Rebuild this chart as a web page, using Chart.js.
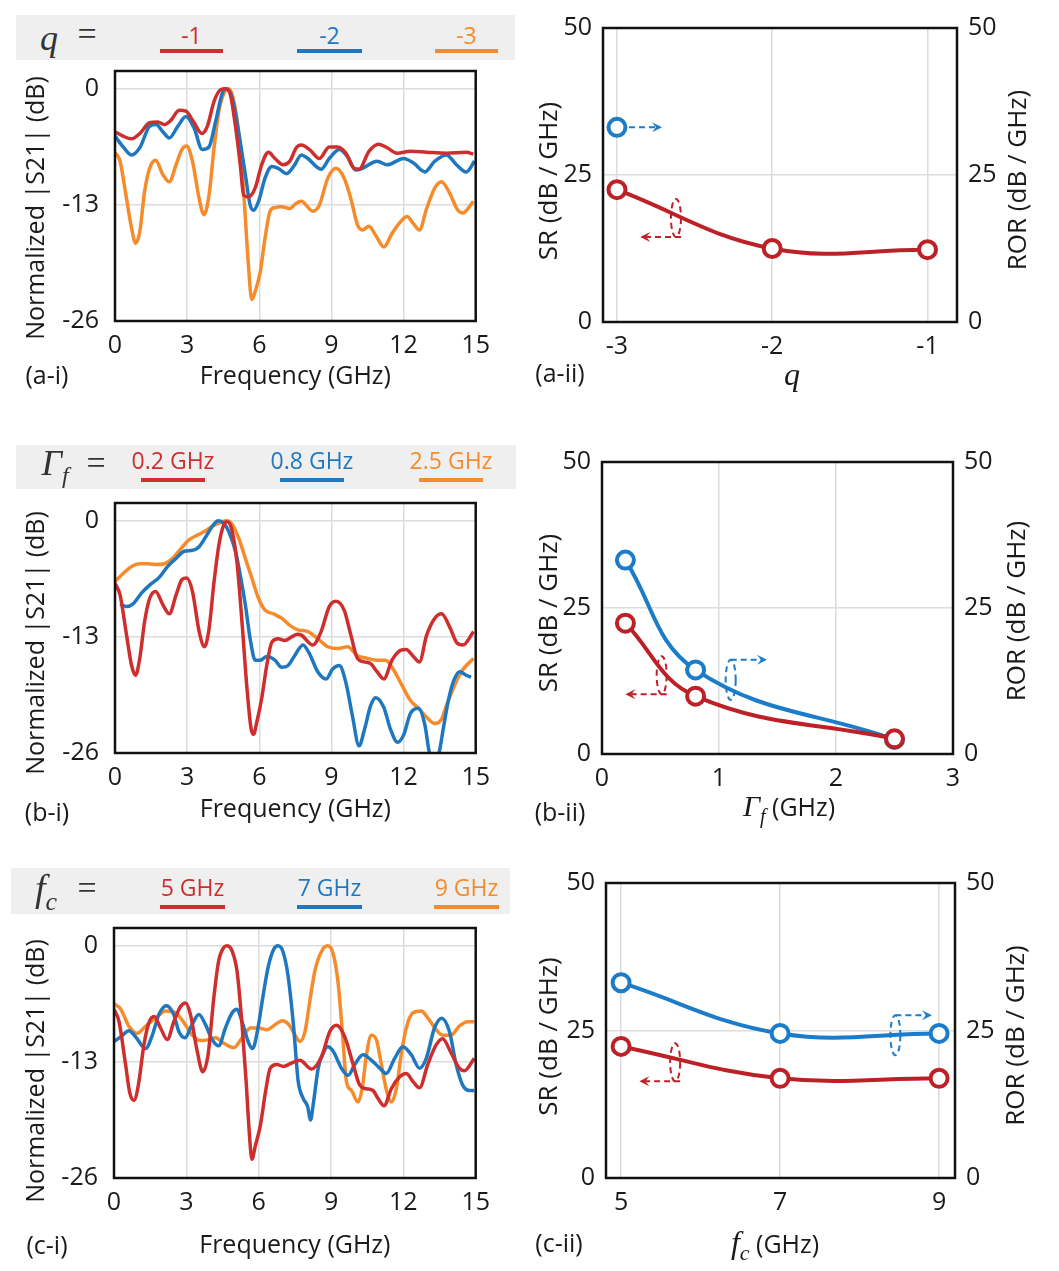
<!DOCTYPE html>
<html>
<head>
<meta charset="utf-8">
<script src="https://cdn.jsdelivr.net/npm/chart.js@4.4.1/dist/chart.umd.min.js"></script>
<style>
  body { margin: 0; background: #fff; width: 1059px; height: 1271px; position: relative; overflow: hidden; font-family: 'Open Sans', sans-serif; color: #1a1a1a; }
  canvas { position: absolute; }
  .band { position: absolute; background: #efefef; }
  .abs { position: absolute; white-space: nowrap; transform: translate(-50%, -50%); line-height: 1; }
  .bar { position: absolute; height: 4px; }
  .math { font-family: 'Liberation Serif', serif; font-style: italic; }
  .lbl { font-size: 25px; }
  .leg { font-size: 23px; }
</style>
</head>
<body>
<canvas id="ai"></canvas>
<canvas id="aii"></canvas>
<canvas id="bi"></canvas>
<canvas id="bii"></canvas>
<canvas id="ci"></canvas>
<canvas id="cii"></canvas>

<script>
// ---- data ----
const s21Ticks = [-26, -13, 0];

// (a-i) q = -1, -2, -3   [GHz, dB]
const qM1 = [[0,-4.8],[0.34,-5.3],[0.69,-5.6],[1.03,-5.0],[1.44,-3.8],[1.78,-3.7],[2.06,-4.0],[2.33,-3.5],[2.67,-2.4],[2.95,-2.5],[3.29,-3.8],[3.61,-5.0],[3.84,-4.2],[4.12,-1.4],[4.39,-0.1],[4.6,0],[4.8,-0.7],[5.0,-4.0],[5.21,-8.5],[5.35,-11.9],[5.56,-12.1],[5.83,-11.1],[6.1,-8.5],[6.38,-7.1],[6.65,-7.8],[7.0,-8.5],[7.27,-8.1],[7.54,-6.6],[7.75,-6.3],[8.09,-6.8],[8.5,-7.8],[8.91,-6.5],[9.26,-6.5],[9.6,-7.2],[9.94,-8.9],[10.15,-9.0],[10.56,-7.0],[10.97,-6.2],[11.32,-6.6],[11.73,-7.2],[12.28,-7.0],[12.96,-7.1],[13.78,-7.2],[14.61,-7.1],[14.9,-7.3]];
const qM2 = [[0,-5.3],[0.34,-6.5],[0.69,-7.4],[1.03,-6.6],[1.44,-4.2],[1.71,-4.0],[1.99,-4.8],[2.26,-5.5],[2.61,-4.2],[2.95,-3.1],[3.29,-4.4],[3.63,-6.8],[3.91,-6.5],[4.18,-3.7],[4.46,-0.5],[4.62,0],[4.87,-1.0],[5.14,-4.8],[5.42,-9.6],[5.62,-13.0],[5.76,-13.6],[5.97,-12.6],[6.24,-10.0],[6.52,-8.7],[6.79,-8.9],[7.13,-9.5],[7.45,-8.6],[7.75,-7.4],[8.02,-7.8],[8.57,-9.0],[8.91,-7.8],[9.33,-6.8],[9.67,-7.6],[10.01,-9.1],[10.29,-8.9],[10.9,-8.1],[11.32,-8.5],[12.0,-7.8],[12.41,-8.3],[12.89,-9.3],[13.3,-8.1],[13.78,-7.4],[14.2,-8.5],[14.61,-9.3],[14.95,-8.1]];
const qM3 = [[0,-7.1],[0.21,-8.1],[0.48,-12.3],[0.69,-15.6],[0.86,-17.3],[1.03,-16.0],[1.23,-11.5],[1.44,-8.9],[1.69,-8.0],[1.99,-9.6],[2.26,-10.4],[2.54,-8.5],[2.78,-6.8],[2.98,-6.4],[3.22,-8.1],[3.5,-12.3],[3.7,-14.1],[3.91,-11.9],[4.12,-6.6],[4.32,-2.5],[4.53,-0.5],[4.71,0],[4.9,-0.9],[5.14,-4.8],[5.35,-11.5],[5.53,-19.0],[5.69,-23.6],[5.83,-22.7],[6.04,-20.5],[6.24,-16.7],[6.45,-13.7],[6.65,-13.3],[6.93,-13.2],[7.27,-13.4],[7.54,-12.8],[7.75,-12.6],[8.23,-13.7],[8.5,-13.0],[8.85,-10.0],[9.19,-8.9],[9.53,-10.0],[9.81,-12.3],[10.08,-15.2],[10.29,-15.8],[10.56,-15.4],[10.84,-16.4],[11.18,-17.7],[11.52,-16.2],[11.87,-14.9],[12.14,-14.3],[12.41,-15.1],[12.66,-15.8],[12.96,-13.4],[13.3,-11.1],[13.58,-10.4],[13.92,-11.7],[14.26,-13.6],[14.47,-13.9],[14.9,-12.6]];

// (b-i) Gamma_f = 0.2, 0.8, 2.5 GHz
const gf02 = [[0,-7.0],[0.21,-8.3],[0.48,-12.8],[0.69,-16.2],[0.85,-17.3],[1.03,-15.4],[1.23,-11.3],[1.44,-8.7],[1.69,-7.9],[1.99,-9.4],[2.26,-10.4],[2.54,-8.3],[2.78,-6.6],[2.98,-6.4],[3.22,-7.9],[3.5,-12.4],[3.72,-14.1],[3.91,-12.1],[4.12,-6.8],[4.32,-2.7],[4.53,-0.4],[4.66,-0.1],[4.84,-0.8],[5.07,-4.6],[5.28,-11.3],[5.49,-18.8],[5.66,-23.3],[5.76,-23.9],[5.9,-22.5],[6.1,-19.9],[6.31,-16.2],[6.52,-13.6],[6.79,-13.2],[7.06,-13.4],[7.34,-13.0],[7.59,-12.7],[7.75,-12.8],[8.23,-13.9],[8.57,-12.4],[8.91,-9.6],[9.19,-9.0],[9.53,-10.0],[9.81,-12.8],[10.08,-15.4],[10.36,-15.8],[10.63,-16.0],[10.9,-16.9],[11.18,-17.7],[11.52,-15.6],[11.87,-14.5],[12.11,-14.4],[12.41,-15.2],[12.66,-15.8],[12.96,-12.8],[13.3,-10.9],[13.58,-10.4],[13.92,-11.9],[14.2,-13.6],[14.47,-13.9],[14.91,-12.4]];
const gf08 = [[0.21,-9.3],[0.48,-9.6],[0.75,-9.3],[1.1,-8.1],[1.44,-7.2],[1.85,-6.3],[2.19,-5.1],[2.54,-4.2],[2.88,-3.4],[3.22,-3.3],[3.5,-2.9],[3.77,-1.8],[4.05,-0.6],[4.29,0],[4.53,-0.3],[4.73,-1.2],[5.01,-3.4],[5.21,-6.1],[5.42,-9.4],[5.62,-13.2],[5.83,-15.6],[6.04,-15.6],[6.31,-15.2],[6.65,-15.6],[6.93,-16.4],[7.2,-16.2],[7.47,-15.1],[7.82,-13.9],[8.09,-14.9],[8.43,-16.9],[8.78,-17.7],[9.05,-16.6],[9.33,-16.2],[9.6,-18.1],[9.87,-21.8],[10.15,-25.2],[10.38,-23.3],[10.63,-20.7],[10.84,-19.8],[11.18,-20.9],[11.45,-23.3],[11.75,-24.8],[12.0,-24.0],[12.28,-21.6],[12.62,-21.0],[12.89,-22.9],[13.07,-25.9],[13.24,-26.7],[13.48,-25.9],[13.65,-23.3],[13.85,-20.3],[14.06,-18.1],[14.33,-16.9],[14.61,-17.3],[14.81,-17.5]];
const gf25 = [[0,-6.8],[0.34,-5.9],[0.69,-5.1],[1.03,-4.8],[1.37,-4.8],[1.71,-4.9],[2.06,-4.8],[2.4,-4.2],[2.74,-3.1],[3.09,-2.1],[3.43,-1.6],[3.77,-1.1],[4.12,-0.5],[4.46,-0.1],[4.66,0],[4.87,-0.4],[5.14,-1.9],[5.42,-4.2],[5.69,-6.4],[5.97,-8.7],[6.24,-10.0],[6.58,-10.4],[6.93,-10.9],[7.27,-11.7],[7.61,-12.2],[8.02,-12.4],[8.43,-13.2],[8.85,-14.1],[9.26,-14.3],[9.67,-14.1],[10.08,-15.1],[10.49,-15.4],[10.9,-15.6],[11.25,-15.6],[11.59,-16.7],[11.93,-18.4],[12.28,-20.1],[12.62,-21.0],[12.96,-22.0],[13.3,-22.7],[13.58,-22.2],[13.78,-20.7],[14.06,-18.8],[14.4,-16.9],[14.91,-15.4]];

// (c-i) f_c = 5, 7, 9 GHz
const fc5 = [[0,-7.1],[0.21,-8.5],[0.48,-13.3],[0.65,-16.4],[0.83,-17.3],[1.01,-15.6],[1.24,-11.1],[1.45,-8.6],[1.66,-7.9],[1.93,-9.2],[2.21,-10.5],[2.48,-8.5],[2.76,-6.8],[2.97,-6.4],[3.17,-7.7],[3.45,-11.8],[3.68,-14.1],[3.9,-12.2],[4.14,-5.8],[4.34,-1.7],[4.55,-0.2],[4.69,0],[4.9,-0.6],[5.1,-2.8],[5.31,-8.8],[5.48,-15.2],[5.61,-20.9],[5.72,-23.9],[5.86,-22.4],[6.07,-20.1],[6.28,-16.4],[6.48,-13.7],[6.76,-13.3],[7.03,-13.5],[7.31,-13.2],[7.71,-12.8],[8.19,-13.8],[8.61,-12.4],[8.95,-9.6],[9.23,-8.9],[9.57,-10.2],[9.92,-13.3],[10.19,-15.6],[10.47,-16.0],[10.74,-16.2],[10.95,-17.1],[11.2,-17.9],[11.5,-16.0],[11.84,-14.7],[12.12,-14.3],[12.4,-15.2],[12.67,-15.9],[13.01,-13.3],[13.36,-11.1],[13.63,-10.4],[13.98,-12.0],[14.32,-13.7],[14.53,-14.0],[14.94,-12.6]];
const fc7 = [[0,-10.7],[0.28,-10.2],[0.62,-9.5],[0.9,-10.2],[1.31,-11.5],[1.59,-10.0],[1.86,-7.7],[2.17,-6.7],[2.48,-7.7],[2.69,-9.6],[2.94,-10.3],[3.24,-8.8],[3.52,-7.7],[3.79,-8.8],[4.07,-10.5],[4.34,-11.2],[4.62,-9.2],[4.9,-7.5],[5.1,-7.1],[5.31,-8.5],[5.59,-10.9],[5.75,-11.5],[5.97,-9.2],[6.17,-5.8],[6.39,-2.4],[6.62,-0.4],[6.8,0],[7.0,-0.6],[7.21,-3.2],[7.44,-8.8],[7.64,-15.2],[7.85,-17.1],[8.03,-18.0],[8.15,-19.5],[8.26,-17.8],[8.47,-13.7],[8.68,-12.0],[8.86,-11.3],[9.09,-11.8],[9.43,-13.7],[9.71,-14.5],[9.98,-13.3],[10.33,-12.2],[10.67,-12.8],[11.02,-13.7],[11.29,-14.3],[11.64,-12.6],[11.98,-11.3],[12.33,-12.2],[12.67,-13.7],[12.95,-12.6],[13.29,-9.2],[13.59,-8.1],[13.91,-9.6],[14.19,-13.3],[14.46,-15.6],[14.74,-16.2],[14.94,-16.2]];
const fc9 = [[0,-6.5],[0.28,-7.1],[0.62,-9.0],[0.97,-9.8],[1.31,-9.0],[1.72,-8.1],[2.14,-7.3],[2.55,-7.5],[2.9,-8.6],[3.24,-10.0],[3.59,-10.6],[3.93,-10.5],[4.21,-10.3],[4.55,-10.9],[4.97,-11.4],[5.31,-10.3],[5.66,-9.2],[6.0,-9.2],[6.34,-9.4],[6.69,-8.8],[6.97,-8.4],[7.24,-8.8],[7.51,-10.0],[7.71,-10.7],[7.92,-9.6],[8.12,-6.2],[8.33,-2.8],[8.61,-0.6],[8.86,0],[9.09,-0.9],[9.3,-4.3],[9.48,-10.0],[9.64,-15.2],[9.85,-16.2],[10.12,-17.5],[10.29,-16.0],[10.47,-12.2],[10.67,-10.0],[10.88,-10.5],[11.09,-13.3],[11.32,-16.4],[11.5,-17.5],[11.71,-16.0],[11.91,-12.2],[12.12,-9.2],[12.4,-7.5],[12.74,-7.3],[13.02,-8.1],[13.36,-9.4],[13.63,-10.0],[13.98,-10.0],[14.32,-9.0],[14.67,-8.5],[14.94,-8.5]];

// right column: SR (left axis) and ROR (right axis), dB / GHz
const rateTicks = [0, 25, 50];
const qVals = [-3, -2, -1];
const srQ = [22.5, 12.5, 12.3];
const rorQ = [33.1];            // only q = -3 is shown
const gammaVals = [0.2, 0.8, 2.5];
const srGamma = [22.4, 9.9, 2.6];
const rorGamma = [33.2, 14.4, 2.5];
const fcVals = [5, 7, 9];
const srFc = [22.3, 16.9, 16.9];
const rorFc = [33.1, 24.5, 24.5];

const RED = '#cf2e2e', BLUE = '#1f78bf', ORANGE = '#f68b2b';
const RED2 = '#bd2127', BLUE2 = '#1b7cc9';

Chart.defaults.font.family = "'Open Sans', sans-serif";
Chart.defaults.font.size = 25;
Chart.defaults.color = '#1a1a1a';

// black box round the plot area
const framePlugin = {
  id: 'frame',
  afterDatasetsDraw(chart) {
    const { ctx, chartArea: a } = chart;
    ctx.save();
    ctx.strokeStyle = '#111';
    ctx.lineWidth = 2.5;
    ctx.strokeRect(a.left, a.top, a.right - a.left, a.bottom - a.top);
    ctx.restore();
  }
};

// rotated axis titles, both reading bottom to top
const sideTitlePlugin = {
  id: 'sideTitles',
  afterDraw(chart, args, opts) {
    const { ctx, chartArea: a } = chart;
    (opts.items || []).forEach(it => {
      ctx.save();
      ctx.translate(it.x, (a.top + a.bottom) / 2 + it.dy);
      ctx.rotate(-Math.PI / 2);
      ctx.font = (it.size || 25) + "px 'Open Sans', sans-serif";
      ctx.fillStyle = '#1a1a1a';
      ctx.textAlign = 'center';
      ctx.textBaseline = 'middle';
      ctx.fillText(it.text, 0, 0);
      ctx.restore();
    });
  }
};

// dashed ellipse + arrow telling which axis a curve belongs to
const calloutPlugin = {
  id: 'callouts',
  afterDatasetsDraw(chart, args, opts) {
    const { ctx, scales } = chart;
    (opts.items || []).forEach(it => {
      const x = scales.x.getPixelForValue(it.x);
      const y = scales.y.getPixelForValue(it.y);
      const tip = scales.x.getPixelForValue(it.tip);
      ctx.save();
      ctx.strokeStyle = it.color;
      ctx.fillStyle = it.color;
      ctx.lineWidth = 2;
      ctx.setLineDash([6, 4]);
      let x0 = x + (it.start || 0), ay = y;
      if (it.ry) {
        ctx.beginPath();
        ctx.ellipse(x, y, it.rx, it.ry, 0, 0, 2 * Math.PI);
        ctx.stroke();
        ay = it.dir < 0 ? y + it.ry : y - it.ry;
        x0 = it.dir < 0 ? x + it.rx : x;
      }
      ctx.beginPath();
      ctx.moveTo(x0, ay);
      ctx.lineTo(tip - it.dir * 6, ay);
      ctx.stroke();
      ctx.setLineDash([]);
      ctx.beginPath();
      ctx.moveTo(tip, ay);
      ctx.lineTo(tip - it.dir * 10, ay - 5);
      ctx.lineTo(tip - it.dir * 6, ay);
      ctx.lineTo(tip - it.dir * 10, ay + 5);
      ctx.closePath();
      ctx.fill();
      ctx.restore();
    });
  }
};

function place(id, box) {
  const c = document.getElementById(id);
  c.width = box.w; c.height = box.h;
  c.style.left = box.x + 'px'; c.style.top = box.y + 'px';
  c.style.width = box.w + 'px'; c.style.height = box.h + 'px';
  return c;
}

const gridStyle = { color: '#dcdcdc', lineWidth: 1.5, drawTicks: false };

// canvases start 45px above the plot so the label padding never pushes the plot down
function s21Chart(id, x, w, area, xTitleY, yTitleDy, series) {
  const box = { x: x, y: area.t - 45, w: w, h: xTitleY + 25 - (area.t - 45) };
  const c = place(id, box);
  return new Chart(c, {
    type: 'scatter',
    data: {
      datasets: series.map(s => ({
        data: s.pts.map(p => ({ x: p[0], y: p[1] })),
        borderColor: s.color,
        borderWidth: 3.5,
        showLine: true,
        pointRadius: 0,
        cubicInterpolationMode: 'monotone'
      }))
    },
    options: {
      responsive: false,
      animation: false,
      layout: { padding: { top: 45, right: box.x + box.w - area.r, left: 0, bottom: 0 } },
      plugins: {
        legend: { display: false },
        tooltip: { enabled: false },
        sideTitles: { items: [{ text: 'Normalized |S21| (dB)', x: 37 - box.x, dy: yTitleDy }] }
      },
      scales: {
        x: {
          type: 'linear', min: 0, max: 15,
          ticks: { stepSize: 3, padding: 10, maxRotation: 0 },
          grid: gridStyle,
          border: { display: false },
          title: { display: true, text: 'Frequency (GHz)', padding: { top: 0, bottom: 10 } },
          afterFit(s) { s.height = box.y + box.h - area.b; }
        },
        y: {
          min: -26, max: 2,
          afterBuildTicks(s) { s.ticks = s21Ticks.map(v => ({ value: v })); },
          ticks: { padding: 16 },
          grid: gridStyle,
          border: { display: false },
          afterFit(s) { s.width = area.l - box.x; }
        }
      }
    },
    plugins: [framePlugin, sideTitlePlugin]
  });
}

function rateChart(id, area, xr, xs, sr, ror, dys, callouts) {
  const box = { x: 520, y: area.t - 45, w: 539, h: area.b + 80 - (area.t - 45) };
  const c = place(id, box);
  const ptStyle = color => ({
    borderColor: color, borderWidth: 4, showLine: true, tension: 0.4,
    pointRadius: 8.5, pointBorderWidth: 4, pointBackgroundColor: '#fff', pointBorderColor: color
  });
  return new Chart(c, {
    type: 'scatter',
    data: {
      datasets: [
        Object.assign({ data: sr.map((v, i) => ({ x: xs[i], y: v })), yAxisID: 'y' }, ptStyle(RED2)),
        Object.assign({ data: ror.map((v, i) => ({ x: xs[i], y: v })), yAxisID: 'y2' }, ptStyle(BLUE2))
      ]
    },
    options: {
      responsive: false,
      animation: false,
      layout: { padding: { top: 45, right: 0, left: 0, bottom: 0 } },
      plugins: {
        legend: { display: false },
        tooltip: { enabled: false },
        sideTitles: { items: [
          { text: 'SR (dB / GHz)', x: 550 - box.x, dy: dys[0], size: 26 },
          { text: 'ROR (dB / GHz)', x: dys[2] - box.x, dy: dys[1], size: 26 }
        ] },
        callouts: { items: callouts }
      },
      scales: {
        x: {
          type: 'linear', min: xr[0], max: xr[1],
          afterBuildTicks(s) { s.ticks = xr[2].map(v => ({ value: v })); },
          ticks: { padding: 10, maxRotation: 0 },
          grid: gridStyle,
          border: { display: false },
          afterFit(s) { s.height = box.y + box.h - area.b; }
        },
        y: {
          min: 0, max: 50,
          afterBuildTicks(s) { s.ticks = rateTicks.map(v => ({ value: v })); },
          ticks: { padding: 11 },
          grid: gridStyle,
          border: { display: false },
          afterFit(s) { s.width = area.l - box.x; }
        },
        y2: {
          position: 'right', min: 0, max: 50,
          afterBuildTicks(s) { s.ticks = rateTicks.map(v => ({ value: v })); },
          ticks: { padding: 11 },
          grid: { drawOnChartArea: false, drawTicks: false },
          border: { display: false },
          afterFit(s) { s.width = box.x + box.w - area.r; }
        }
      }
    },
    plugins: [framePlugin, sideTitlePlugin, calloutPlugin]
  });
}

s21Chart('ai', 0, 500, { l: 115, t: 71, r: 478, b: 321 }, 377, 12,
  [{ pts: qM1, color: RED }, { pts: qM2, color: BLUE }, { pts: qM3, color: ORANGE }]);
s21Chart('bi', 0, 500, { l: 115, t: 503, r: 478, b: 753 }, 810, 15,
  [{ pts: gf02, color: RED }, { pts: gf08, color: BLUE }, { pts: gf25, color: ORANGE }]);
s21Chart('ci', 0, 500, { l: 114, t: 928, r: 477, b: 1178 }, 1246, 18,
  [{ pts: fc5, color: RED }, { pts: fc7, color: BLUE }, { pts: fc9, color: ORANGE }]);

rateChart('aii', { l: 603, t: 28, r: 957, b: 322 },
  [-3.09, -0.81, qVals], qVals, srQ, rorQ, [6, 5, 1019],
  [{ color: RED2, x: -2.62, y: 17.7, rx: 5, ry: 19, dir: -1, tip: -2.85 },
   { color: BLUE2, x: -3, y: 33.1, start: 12, dir: 1, tip: -2.71 }]);
rateChart('bii', { l: 602, t: 462, r: 953, b: 754 },
  [0, 3, [0, 1, 2, 3]], gammaVals, srGamma, rorGamma, [5, 3, 1018],
  [{ color: RED2, x: 0.51, y: 13.5, rx: 5, ry: 19, dir: -1, tip: 0.2 },
   { color: BLUE2, x: 1.1, y: 12.7, rx: 5, ry: 20, dir: 1, tip: 1.41 }]);
rateChart('cii', { l: 606, t: 883, r: 955, b: 1178 },
  [4.81, 9.2, fcVals], fcVals, srFc, rorFc, [6, 5, 1017],
  [{ color: RED2, x: 5.68, y: 19.6, rx: 5, ry: 19, dir: -1, tip: 5.23 },
   { color: BLUE2, x: 8.45, y: 24.2, rx: 5, ry: 20, dir: 1, tip: 8.91 }]);

// ---- legend bands, panel tags, right-hand x titles ----
function add(html, css, cls) {
  const d = document.createElement('div');
  d.className = cls || 'abs';
  d.innerHTML = html;
  Object.assign(d.style, css);
  document.body.appendChild(d);
  return d;
}
const bands = [
  { box: [16, 15, 499, 45], sym: '<span class="math" style="font-size:36px">q</span>', symX: 49, symY: 38, eqX: 87, eqY: 34, textY: 35, barY: 49,
    items: [['-1', RED, 160, 223], ['-2', BLUE, 297, 362], ['-3', ORANGE, 435, 498]] },
  { box: [16, 445, 500, 44], sym: '<span class="math" style="font-size:36px">Γ<sub style="font-size:24px">f</sub></span>', symX: 55, symY: 466, eqX: 96, eqY: 463, textY: 460, barY: 478,
    items: [['0.2 GHz', RED, 141, 205], ['0.8 GHz', BLUE, 280, 344], ['2.5 GHz', ORANGE, 419, 483]] },
  { box: [11, 868, 499, 46], sym: '<span class="math" style="font-size:38px">f<sub style="font-size:26px">c</sub></span>', symX: 46, symY: 892, eqX: 87, eqY: 888, textY: 887, barY: 905,
    items: [['5 GHz', RED, 160, 225], ['7 GHz', BLUE, 297, 362], ['9 GHz', ORANGE, 434, 499]] }
];
bands.forEach(b => {
  add('', { left: b.box[0] + 'px', top: b.box[1] + 'px', width: b.box[2] + 'px', height: b.box[3] + 'px' }, 'band');
  add(b.sym, { left: b.symX + 'px', top: b.symY + 'px', color: '#333' });
  add('=', { left: b.eqX + 'px', top: b.eqY + 'px', fontSize: '34px', color: '#333', fontFamily: "'Liberation Serif', serif" });
  b.items.forEach(([t, col, x1, x2]) => {
    add(t, { left: (x1 + x2) / 2 + 'px', top: b.textY + 'px', color: col }, 'abs leg');
    add('', { left: x1 + 'px', top: b.barY + 'px', width: (x2 - x1) + 'px', background: col }, 'bar');
  });
});

[['(a-i)', 47, 374], ['(a-ii)', 560, 372], ['(b-i)', 47, 811], ['(b-ii)', 560, 811], ['(c-i)', 47, 1244], ['(c-ii)', 559, 1242]]
  .forEach(([t, x, y]) => add(t, { left: x + 'px', top: y + 'px' }, 'abs lbl'));

add('<span class="math" style="font-size:32px">q</span>', { left: '792px', top: '374px' });
add('<span class="math" style="font-size:30px">Γ<sub style="font-size:20px">f</sub></span> (GHz)', { left: '789px', top: '808px', fontSize: '25px' });
add('<span class="math" style="font-size:32px">f<sub style="font-size:22px">c</sub></span> (GHz)', { left: '775px', top: '1245px', fontSize: '25px' });
</script>
</body>
</html>
